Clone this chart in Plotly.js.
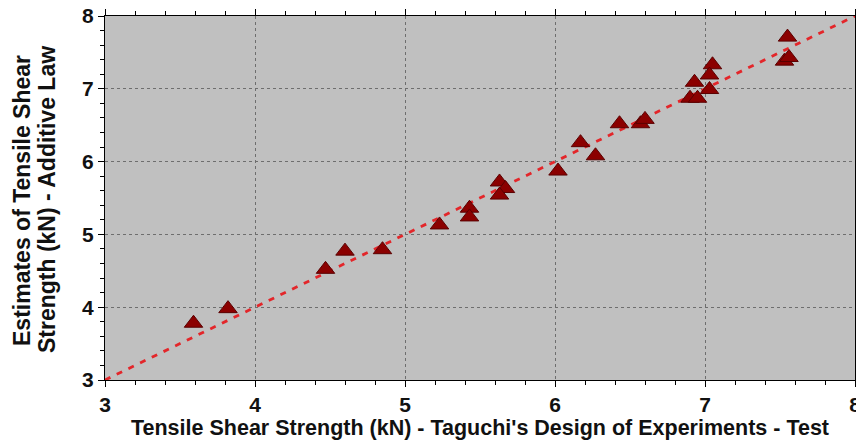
<!DOCTYPE html>
<html>
<head>
<meta charset="utf-8">
<script src="https://cdn.plot.ly/plotly-3.0.1.min.js"></script>
<style>
  html, body { margin: 0; padding: 0; background: #ffffff; }
  #chart { width: 856px; height: 443px; }
</style>
</head>
<body>
<div id="chart"></div>
<script>
// Measured tensile shear strength (Taguchi DoE test), kN
const testValues = [3.59, 3.82, 4.47, 4.60, 4.85, 5.23, 5.43, 5.43, 5.63, 5.67, 5.63, 6.02, 6.17, 6.27, 6.43, 6.57, 6.60, 6.93, 6.90, 6.95, 7.05, 7.03, 7.03, 7.55, 7.53, 7.56];
// Estimates from additive law, kN
const estimateValues = [3.78, 3.98, 4.52, 4.77, 4.79, 5.13, 5.36, 5.24, 5.72, 5.63, 5.54, 5.87, 6.26, 6.08, 6.52, 6.52, 6.58, 7.09, 6.87, 6.87, 7.33, 7.19, 6.99, 7.71, 7.38, 7.43];
// Reference line (y = x)
const refLineX = [3, 8];
const refLineY = [3, 8];
const tickValues = [3, 4, 5, 6, 7, 8];
const tickLabels = ["<b>3</b>", "<b>4</b>", "<b>5</b>", "<b>6</b>", "<b>7</b>", "<b>8</b>"];
const xTitle = "Tensile Shear Strength (kN) - Taguchi's Design of Experiments - Test";
const yTitleLines = ["Estimates of Tensile Shear", "Strength (kN) - Additive Law"];

const FONT = 'Liberation Sans, Arial, sans-serif';

const traces = [
  {
    x: refLineX, y: refLineY,
    type: 'scatter', mode: 'lines',
    line: { color: '#e3262a', width: 2.8, dash: '6px,7px' },
    hoverinfo: 'skip', showlegend: false
  },
  {
    x: testValues, y: estimateValues,
    type: 'scatter', mode: 'markers',
    marker: { symbol: 'triangle-up', size: 16, color: '#8b0000', line: { color: '#5a0000', width: 1 } },
    showlegend: false
  }
];

const axisCommon = {
  range: [3, 8],
  tickvals: tickValues,
  ticktext: tickLabels,
  ticklabeloverflow: 'allow',
  showline: true, linecolor: '#000000', linewidth: 1,
  mirror: 'ticks',
  ticks: 'outside', ticklen: 6, tickcolor: '#000000', tickwidth: 1,
  showgrid: true, gridcolor: '#6e6e6e', gridwidth: 1, griddash: '3px,3px',
  zeroline: false,
  minor: { ticks: 'outside', dtick: 0.2, ticklen: 4, tickcolor: '#000000', showgrid: false },
  tickfont: { family: FONT, size: 21, color: '#111111' }
};

const yTitleX = [-0.1107, -0.0773];

const layout = {
  width: 856, height: 443,
  margin: { l: 105, r: 1, t: 16, b: 63 },
  paper_bgcolor: '#ffffff',
  plot_bgcolor: '#c0c0c0',
  xaxis: Object.assign({}, axisCommon, {
    ticklabelstandoff: 0,
    title: { text: "<b>" + xTitle + "</b>",
             font: { family: FONT, size: 21.5, color: '#111111' }, standoff: 2 }
  }),
  yaxis: Object.assign({}, axisCommon, {}),
  annotations: yTitleLines.map((t, i) => ({
    text: "<b>" + t + "</b>",
    textangle: -90,
    xref: 'paper', yref: 'paper',
    x: yTitleX[i], y: 0.4945,
    xanchor: 'center', yanchor: 'middle',
    showarrow: false,
    font: { family: FONT, size: 23, color: '#111111' }
  })),
  showlegend: false
};

Plotly.newPlot('chart', traces, layout, { displayModeBar: false, staticPlot: true });
</script>
</body>
</html>
